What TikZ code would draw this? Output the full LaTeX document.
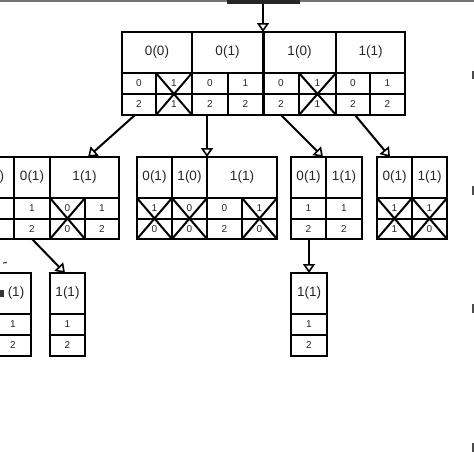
\documentclass[tikz,border=0pt]{standalone}
\usepackage{fontspec}
\setmainfont{Liberation Sans}
\usetikzlibrary{arrows.meta}
\tikzset{
  cell/.style={draw, line width=2.2pt, inner sep=0pt, outer sep=0pt, font=\fontsize{10}{12}\selectfont, text=black!85},
  hdr/.style={font=\fontsize{13.5}{15}\selectfont},
  xline/.style={line width=2pt},
  arr/.style={line width=2pt, -{Triangle[open, width=12pt, length=9pt, line width=1.6pt]}},
  edgemark/.style={fill=black!70, draw=none}
}
\newcommand\mkcell[7][]{\node[cell,#1,minimum width={(#5-#3)*1pt},minimum height={(#6-#4)*1pt}] (#2) at ({(#3+#5)/2},{(#4+#6)/2}) {#7};}
\newcommand\mkcross[2]{\draw[xline] (#1.north west) -- (#2.south east) (#1.north east) -- (#2.south west);}
\begin{document}
\begin{tikzpicture}[x=1pt,y=-1pt]
\useasboundingbox (0,0) rectangle (474,474);
\clip (0,0) rectangle (474,474);
% top bar
\fill[black!55] (0,0) rectangle (474,2);
\fill[black!85] (227,0) rectangle (300,4);
% root
\mkcell[hdr]{r1h}{122}{32}{192}{73}{0(0)}
\mkcell{r1a}{122}{73}{156}{94}{0}
\mkcell{r1b}{156}{73}{192}{94}{1}
\mkcell{r1c}{122}{94}{156}{115}{2}
\mkcell{r1d}{156}{94}{192}{115}{1}
\mkcross{r1b}{r1d}
\mkcell[hdr]{r2h}{192}{32}{263}{73}{0(1)}
\mkcell{r2a}{192}{73}{228}{94}{0}
\mkcell{r2b}{228}{73}{263}{94}{1}
\mkcell{r2c}{192}{94}{228}{115}{2}
\mkcell{r2d}{228}{94}{263}{115}{2}
\mkcell[hdr]{r3h}{263}{32}{336}{73}{1(0)}
\mkcell{r3a}{263}{73}{299}{94}{0}
\mkcell{r3b}{299}{73}{336}{94}{1}
\mkcell{r3c}{263}{94}{299}{115}{2}
\mkcell{r3d}{299}{94}{336}{115}{1}
\mkcross{r3b}{r3d}
\mkcell[hdr]{r4h}{336}{32}{405}{73}{1(1)}
\mkcell{r4a}{336}{73}{370}{94}{0}
\mkcell{r4b}{370}{73}{405}{94}{1}
\mkcell{r4c}{336}{94}{370}{115}{2}
\mkcell{r4d}{370}{94}{405}{115}{2}
\draw[line width=3pt] (r2h.north east) -- (r2d.south east);
\coordinate (topc) at (r2h.north east |- 0,4);
% box A
\mkcell[hdr]{a1h}{-30}{157}{14}{198}{0(0)}
\mkcell{a1a}{-30}{198}{14}{219}{}
\mkcell{a1b}{-30}{219}{14}{239}{}
\mkcell[hdr]{a2h}{14}{157}{50}{198}{0(1)}
\mkcell{a2a}{14}{198}{50}{219}{1}
\mkcell{a2b}{14}{219}{50}{239}{2}
\mkcell[hdr]{a3h}{50}{157}{119}{198}{1(1)}
\mkcell{a3a}{50}{198}{85}{219}{0}
\mkcell{a3b}{85}{198}{119}{219}{1}
\mkcell{a3c}{50}{219}{85}{239}{0}
\mkcell{a3d}{85}{219}{119}{239}{2}
\mkcross{a3a}{a3c}
% box B
\mkcell[hdr]{b1h}{137}{157}{172}{198}{0(1)}
\mkcell{b1a}{137}{198}{172}{219}{1}
\mkcell{b1b}{137}{219}{172}{239}{0}
\mkcross{b1a}{b1b}
\mkcell[hdr]{b2h}{172}{157}{207}{198}{1(0)}
\mkcell{b2a}{172}{198}{207}{219}{0}
\mkcell{b2b}{172}{219}{207}{239}{0}
\mkcross{b2a}{b2b}
\mkcell[hdr]{b3h}{207}{157}{277}{198}{1(1)}
\mkcell{b3a}{207}{198}{242}{219}{0}
\mkcell{b3b}{242}{198}{277}{219}{1}
\mkcell{b3c}{207}{219}{242}{239}{2}
\mkcell{b3d}{242}{219}{277}{239}{0}
\mkcross{b3b}{b3d}
% box C
\mkcell[hdr]{c1h}{291}{157}{326}{198}{0(1)}
\mkcell{c1a}{291}{198}{326}{219}{1}
\mkcell{c1b}{291}{219}{326}{239}{2}
\mkcell[hdr]{c2h}{326}{157}{362}{198}{1(1)}
\mkcell{c2a}{326}{198}{362}{219}{1}
\mkcell{c2b}{326}{219}{362}{239}{2}
% box D
\mkcell[hdr]{d1h}{377}{157}{412}{198}{0(1)}
\mkcell{d1a}{377}{198}{412}{219}{1}
\mkcell{d1b}{377}{219}{412}{239}{1}
\mkcross{d1a}{d1b}
\mkcell[hdr]{d2h}{412}{157}{447}{198}{1(1)}
\mkcell{d2a}{412}{198}{447}{219}{1}
\mkcell{d2b}{412}{219}{447}{239}{0}
\mkcross{d2a}{d2b}
% level 3
\mkcell[hdr]{e1h}{-5}{273}{31}{314}{\hspace*{6pt}(1)}
\fill[black!80] (0,290) rectangle (4,297);
\mkcell{e1a}{-5}{314}{31}{335}{1}
\mkcell{e1b}{-5}{335}{31}{356}{2}
\mkcell[hdr]{f1h}{50}{273}{85}{314}{1(1)}
\mkcell{f1a}{50}{314}{85}{335}{1}
\mkcell{f1b}{50}{335}{85}{356}{2}
\mkcell[hdr]{g1h}{291}{273}{327}{314}{1(1)}
\mkcell{g1a}{291}{314}{327}{335}{1}
\mkcell{g1b}{291}{335}{327}{356}{2}
% arrows
\draw[arr] (topc) -- (r2h.north east);
\draw[arr] ([xshift=-4pt]r1c.south) -- ([xshift=3.5pt]a3h.north);
\draw[arr] (b2h.north east |- r2c.south) -- (b2h.north east);
\draw[arr] (r3c.south) -- ([xshift=-3pt]c1h.north east);
\draw[arr] ([xshift=2pt]r4c.south) -- ([xshift=-4.5pt]d1h.north);
\draw[arr] (a2b.south) -- ([xshift=-2.5pt]f1h.north);
\draw[arr] (g1h.north |- c1b.south) -- (g1h.north);
\coordinate (stubA) at (3,263);
\coordinate (stubB) at (7,262.5);
\draw[line width=1.2pt, black!70] (stubA) -- (stubB);
% right edge marks
\fill[edgemark] (471.5,71) rectangle (474,79);
\fill[edgemark] (471.5,186) rectangle (474,195);
\fill[edgemark] (471.5,304) rectangle (474,313);
\fill[edgemark] (471.5,443) rectangle (474,452);
\end{tikzpicture}
\end{document}
